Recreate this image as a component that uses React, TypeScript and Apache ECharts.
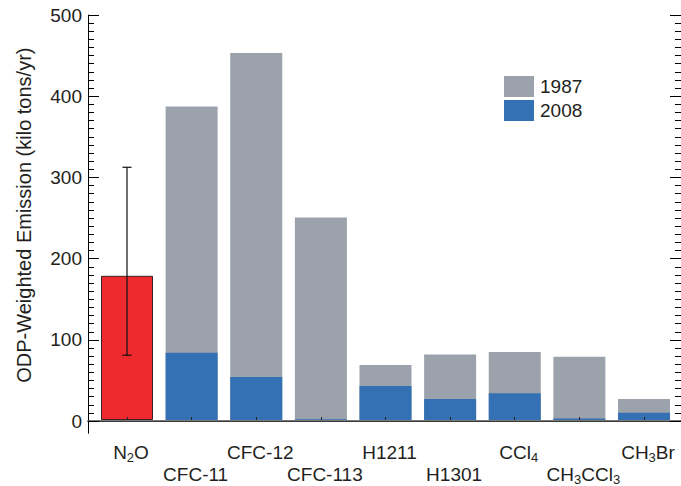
import React, { useEffect, useRef } from "react";
import * as echarts from "echarts";

// ---- data ----
const CATEGORIES = ["N2O", "CFC-11", "CFC-12", "CFC-113", "H1211", "H1301", "CCl4", "CH3CCl3", "CH3Br"];
const CATEGORY_LABELS = [
  "{a|N}{s|2}{a|O}",
  "{a|CFC-11}",
  "{a|CFC-12}",
  "{a|CFC-113}",
  "{a|H1211}",
  "{a|H1301}",
  "{a|CCl}{s|4}",
  "{a|CH}{s|3}{a|CCl}{s|3}",
  "{a|CH}{s|3}{a|Br}",
];
const EMISSION_1987 = ["-", 387, 453, 250, 68, 81, 84, 78, 26];
const EMISSION_2008 = ["-", 83, 53, 1, 42, 26, 33, 2, 9];
const N2O_VALUE = [178, "-", "-", "-", "-", "-", "-", "-", "-"];
const N2O_ERROR = [[0, 80, 312]]; // [category index, low, high]
const Y_MAJOR_TICKS = [0, 100, 200, 300, 400, 500];
const Y_MINOR_TICKS: number[] = [];
for (let v = 0; v <= 500; v += 10) if (v % 100 !== 0) Y_MINOR_TICKS.push(v);

const FONT = "'Liberation Sans', Arial, Helvetica, sans-serif";
const TXT = "#231f20";
const GRAY = "#9ba2ab";
const BLUE = "#3471b4";
const RED = "#ee2a2f";

const rich = {
  a: { fontSize: 19, fontFamily: FONT, color: TXT, lineHeight: 24 },
  s: { fontSize: 13, fontFamily: FONT, color: TXT, lineHeight: 13, verticalAlign: "bottom" },
};

export default function App() {
  const ref = useRef<HTMLDivElement>(null);
  useEffect(() => {
    if (!ref.current) return;
    const chart = echarts.init(ref.current, null, { renderer: "svg" });
    const frameY = (position: string, ticks: number[], len: number, showLine: boolean, labels: boolean, name?: string) => ({
      type: "value",
      gridIndex: 0,
      position,
      min: -15,
      max: 500,
      name,
      nameLocation: "middle",
      nameGap: 54,
      nameTextStyle: { fontSize: 20, fontFamily: FONT, color: TXT, padding: [0, 0, 0, 18] },
      axisLine: { show: showLine, lineStyle: { color: "#000", width: 1 } },
      axisTick: { show: true, inside: true, length: len, customValues: ticks, lineStyle: { color: "#000", width: 1 } },
      axisLabel: labels
        ? { show: true, customValues: Y_MAJOR_TICKS, fontSize: 19, fontFamily: FONT, color: TXT, margin: 6 }
        : { show: false },
      splitLine: { show: false },
    });
    const catAxis = (even: boolean, margin: number, ticks: boolean) => ({
      type: "category",
      gridIndex: 1,
      position: "bottom",
      data: CATEGORIES,
      z: 5,
      axisLine: { show: false },
      axisTick: { show: ticks, inside: true, length: 3, alignWithLabel: true, lineStyle: { color: "#222" } },
      axisLabel: {
        interval: 0,
        margin,
        padding: [0, 0, 0, 8],
        formatter: (_v: string, i: number) => ((i % 2 === 0) === even ? CATEGORY_LABELS[i] : ""),
        rich,
      },
      splitLine: { show: false },
    });
    chart.setOption({
      animation: false,
      backgroundColor: "#fff",
      grid: [
        { left: 88, right: 0, top: 15, bottom: 52.7, containLabel: false },
        { left: 94.7, right: 4.7, top: 15, bottom: 64.9, containLabel: false },
      ],
      legend: {
        data: ["1987", "2008"],
        orient: "vertical",
        left: 504,
        top: 76,
        padding: 0,
        itemWidth: 30,
        itemHeight: 21,
        itemGap: 3,
        icon: "rect",
        textStyle: { fontSize: 19, fontFamily: FONT, color: TXT, padding: [0, 0, 0, 1] },
      },
      xAxis: [
        {
          type: "value", gridIndex: 0, position: "bottom", min: 0, max: 1,
          axisLine: { show: true, lineStyle: { color: "#000", width: 1 } },
          axisTick: { show: false }, axisLabel: { show: false }, splitLine: { show: false },
        },
        {
          type: "value", gridIndex: 0, position: "top", min: 0, max: 1,
          axisLine: { show: true, lineStyle: { color: "#4d4d4d", width: 1.5 } },
          axisTick: { show: false }, axisLabel: { show: false }, splitLine: { show: false },
        },
        catAxis(true, 20, true),
        catAxis(false, 42, false),
      ],
      yAxis: [
        frameY("left", Y_MAJOR_TICKS, 11, true, true, "ODP-Weighted Emission (kilo tons/yr)"),
        frameY("left", Y_MINOR_TICKS, 6, false, false),
        frameY("right", Y_MAJOR_TICKS, 11, true, false),
        frameY("right", Y_MINOR_TICKS, 6, false, false),
        {
          type: "value", gridIndex: 1, min: 0, max: 500,
          axisLine: { show: false }, axisTick: { show: false }, axisLabel: { show: false }, splitLine: { show: false },
        },
      ],
      series: [
        {
          name: "1987", type: "bar", xAxisIndex: 2, yAxisIndex: 4, data: EMISSION_1987,
          barWidth: 52, barGap: "-100%", itemStyle: { color: GRAY },
        },
        {
          name: "2008", type: "bar", xAxisIndex: 2, yAxisIndex: 4, data: EMISSION_2008,
          barWidth: 52, barGap: "-100%", itemStyle: { color: BLUE },
        },
        {
          name: "N2O", type: "bar", xAxisIndex: 2, yAxisIndex: 4, data: N2O_VALUE,
          barWidth: 52, barGap: "-100%", itemStyle: { color: RED, borderColor: "#3a2020", borderWidth: 1 },
        },
        {
          name: "N2O range", type: "custom", xAxisIndex: 2, yAxisIndex: 4, data: N2O_ERROR, z: 4,
          encode: { x: 0, y: [1, 2] },
          renderItem: (_p: any, api: any) => {
            const lo = api.coord([api.value(0), api.value(1)]);
            const hi = api.coord([api.value(0), api.value(2)]);
            const st = { stroke: "#111", lineWidth: 1.2 };
            return {
              type: "group",
              children: [
                { type: "line", shape: { x1: lo[0], y1: lo[1], x2: hi[0], y2: hi[1] }, style: st },
                { type: "line", shape: { x1: hi[0] - 4.5, y1: hi[1], x2: hi[0] + 4.5, y2: hi[1] }, style: st },
                { type: "line", shape: { x1: lo[0] - 4.5, y1: lo[1], x2: lo[0] + 4.5, y2: lo[1] }, style: st },
              ],
            };
          },
        },
      ],
    });
    return () => chart.dispose();
  }, []);
  return <div ref={ref} style={{ width: 681, height: 486, position: "absolute", left: 0, top: 0 }} />;
}
